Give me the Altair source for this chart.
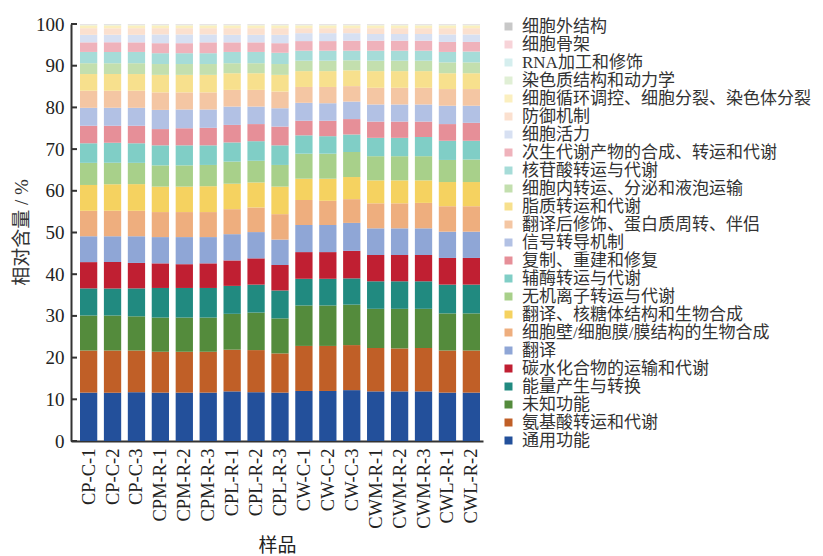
import altair as alt
import pandas as pd

samples = ["CP-C-1", "CP-C-2", "CP-C-3", "CPM-R-1", "CPM-R-2", "CPM-R-3",
           "CPL-R-1", "CPL-R-2", "CPL-R-3", "CW-C-1", "CW-C-2", "CW-C-3",
           "CWM-R-1", "CWM-R-2", "CWM-R-3", "CWL-R-1", "CWL-R-2"]

# categories from the bottom of the stack to the top
categories = ["通用功能", "氨基酸转运和代谢", "未知功能", "能量产生与转换",
              "碳水化合物的运输和代谢", "翻译", "细胞壁/细胞膜/膜结构的生物合成",
              "翻译、核糖体结构和生物合成", "无机离子转运与代谢", "辅酶转运与代谢",
              "复制、重建和修复", "信号转导机制", "翻译后修饰、蛋白质周转、伴侣",
              "脂质转运和代谢", "细胞内转运、分泌和液泡运输", "核苷酸转运与代谢",
              "次生代谢产物的合成、转运和代谢", "细胞活力", "防御机制",
              "细胞循环调控、细胞分裂、染色体分裂", "染色质结构和动力学",
              "RNA加工和修饰", "细胞骨架", "细胞外结构"]

colors = ["#23509b", "#c05f27", "#548b3c", "#218a80", "#c01f32", "#8fa6d6",
          "#eeae7e", "#f5d260", "#a8d08a", "#80cec6", "#e68f98", "#b2c1e4",
          "#f4c6a3", "#f7e08d", "#c3dfae", "#a6dcd8", "#efb2bb", "#d7e0f2",
          "#fbe0cf", "#fbefbf", "#e0efd5", "#d5eeee", "#f7d3d8", "#c8c8c8"]

v_general = [11.6, 11.6, 11.7, 11.6, 11.6, 11.6, 11.9, 11.7, 11.6, 12.0, 12.0, 12.2, 11.9, 11.9, 11.9, 11.6, 11.6]
v_amino = [10.1, 10.1, 10.0, 9.8, 9.8, 9.8, 10.0, 10.1, 9.4, 10.8, 10.8, 10.8, 10.4, 10.3, 10.4, 10.1, 10.1]
v_unknown = [8.4, 8.4, 8.2, 8.2, 8.2, 8.2, 8.6, 9.0, 8.4, 9.7, 9.7, 9.7, 9.4, 9.5, 9.4, 8.9, 8.9]
v_energy = [6.5, 6.5, 6.7, 7.1, 7.1, 7.1, 6.7, 6.7, 6.7, 6.4, 6.4, 6.3, 6.6, 6.6, 6.6, 6.9, 6.9]
v_carb = [6.3, 6.3, 6.1, 5.9, 5.7, 5.9, 6.1, 6.3, 6.1, 6.4, 6.4, 6.6, 6.3, 6.3, 6.3, 6.4, 6.4]
v_transl = [6.2, 6.2, 6.4, 6.3, 6.5, 6.3, 6.3, 6.3, 6.1, 6.5, 6.5, 6.7, 6.4, 6.4, 6.4, 6.3, 6.3]
v_wall = [6.1, 6.1, 6.1, 6.0, 6.0, 6.0, 6.0, 5.9, 6.1, 6.0, 5.8, 5.7, 6.0, 6.0, 6.1, 6.1, 6.1]
v_ribo = [6.2, 6.4, 6.4, 6.1, 6.1, 6.2, 6.1, 6.0, 6.6, 5.1, 5.3, 5.3, 5.5, 5.5, 5.4, 5.8, 5.8]
v_inorg = [5.3, 5.1, 5.1, 5.1, 5.1, 5.1, 5.3, 5.2, 5.2, 6.0, 6.0, 6.0, 5.8, 5.8, 5.8, 5.3, 5.4]
v_coenz = [4.7, 4.8, 4.7, 4.8, 4.8, 4.7, 4.6, 4.7, 4.7, 4.4, 4.2, 4.2, 4.4, 4.4, 4.6, 4.6, 4.5]
v_repl = [4.2, 4.1, 4.2, 3.9, 4.1, 4.2, 4.2, 4.1, 4.5, 3.5, 3.7, 3.7, 3.9, 3.9, 3.7, 4.0, 4.3]
v_signal = [4.3, 4.3, 4.3, 4.6, 4.5, 4.4, 4.4, 4.2, 4.4, 4.3, 4.2, 4.2, 4.1, 4.1, 4.1, 4.4, 4.1]
v_postt = [4.1, 4.1, 4.1, 4.2, 4.1, 4.1, 4.0, 4.0, 4.0, 3.8, 3.9, 3.7, 4.0, 4.0, 4.0, 4.0, 4.0]
v_lipid = [4.0, 4.0, 4.0, 4.2, 4.2, 4.2, 4.0, 4.0, 4.0, 3.8, 3.8, 3.8, 4.0, 4.0, 4.0, 3.8, 3.8]
v_intra = [2.6, 2.6, 2.6, 2.6, 2.6, 2.6, 2.4, 2.4, 2.6, 2.5, 2.5, 2.4, 2.5, 2.5, 2.5, 2.6, 2.6]
v_nucl = [2.7, 2.7, 2.7, 2.6, 2.6, 2.6, 2.7, 2.7, 2.7, 2.4, 2.4, 2.3, 2.4, 2.4, 2.4, 2.5, 2.6]
v_second = [2.3, 2.3, 2.3, 2.4, 2.4, 2.6, 2.3, 2.3, 2.3, 2.3, 2.3, 2.4, 2.4, 2.4, 2.4, 2.4, 2.3]
v_motil = [1.8, 1.8, 1.8, 2.1, 2.1, 1.9, 1.8, 1.8, 2.0, 1.9, 1.9, 1.8, 1.6, 1.6, 1.6, 1.8, 1.8]
v_defense = [1.6, 1.6, 1.6, 1.5, 1.5, 1.5, 1.6, 1.6, 1.6, 1.2, 1.2, 1.2, 1.4, 1.4, 1.4, 1.5, 1.5]
v_cycle = [0.65, 0.65, 0.65, 0.65, 0.65, 0.65, 0.65, 0.65, 0.65, 0.65, 0.65, 0.65, 0.65, 0.65, 0.65, 0.65, 0.65]
v_chrom = [0.12, 0.12, 0.12, 0.12, 0.12, 0.12, 0.12, 0.12, 0.12, 0.12, 0.12, 0.12, 0.12, 0.12, 0.12, 0.12, 0.12]
v_rna = [0.10, 0.10, 0.10, 0.10, 0.10, 0.10, 0.10, 0.10, 0.10, 0.10, 0.10, 0.10, 0.10, 0.10, 0.10, 0.10, 0.10]
v_cytosk = [0.08, 0.08, 0.08, 0.08, 0.08, 0.08, 0.08, 0.08, 0.08, 0.08, 0.08, 0.08, 0.08, 0.08, 0.08, 0.08, 0.08]
v_extra = [0.05, 0.05, 0.05, 0.05, 0.05, 0.05, 0.05, 0.05, 0.05, 0.05, 0.05, 0.05, 0.05, 0.05, 0.05, 0.05, 0.05]

series = [v_general, v_amino, v_unknown, v_energy, v_carb, v_transl, v_wall, v_ribo,
          v_inorg, v_coenz, v_repl, v_signal, v_postt, v_lipid, v_intra, v_nucl,
          v_second, v_motil, v_defense, v_cycle, v_chrom, v_rna, v_cytosk, v_extra]

y_ticks = [0, 10, 20, 30, 40, 50, 60, 70, 80, 90, 100]

rows = []
for ci, (cat, vals) in enumerate(zip(categories, series)):
    for s, v in zip(samples, vals):
        rows.append({"样品": s, "类别": cat, "值": v, "序": ci})
df = pd.DataFrame(rows)

legend_order = list(reversed(categories))
legend_colors = list(reversed(colors))

FONT = "Liberation Serif, Noto Sans CJK SC"

bars = alt.Chart(df).mark_bar().encode(
    x=alt.X("样品:N", sort=samples,
            scale=alt.Scale(paddingInner=0.277, paddingOuter=0.25, align=0.75),
            axis=alt.Axis(labelAngle=270, labelFontSize=18.5, labelPadding=7,
                          ticks=False, title="样品", titleFontSize=19,
                          titleFontWeight="normal", titleBaseline="middle",
                          titleY=104, domainWidth=2, domainColor="#333333",
                          labelColor="#222222", titleColor="#222222")),
    y=alt.Y("值:Q", stack="zero",
            scale=alt.Scale(domain=[0, 100], nice=False),
            axis=alt.Axis(values=y_ticks, ticks=False, grid=False, labelFontSize=19,
                          labelPadding=7, title="相对含量 / %", titleFontSize=19,
                          titleFontWeight="normal", titleX=-50, titleY=208,
                          titleBaseline="middle", titleAlign="center",
                          domainWidth=2, domainColor="#333333",
                          labelColor="#222222", titleColor="#333333")),
    color=alt.Color("类别:N", scale=alt.Scale(domain=legend_order, range=legend_colors),
                    legend=alt.Legend(title=None, orient="none", legendX=429, legendY=-6,
                                      symbolType="square", symbolSize=64,
                                      symbolStrokeWidth=0, labelFontSize=17,
                                      labelOffset=5, labelLimit=0, rowPadding=0,
                                      labelColor="#333333", labelFont=FONT)),
    order=alt.Order("序:Q", sort="ascending"),
)

tick_df = pd.DataFrame({"t": y_ticks})
ticks = alt.Chart(tick_df).mark_rule(color="#333333", strokeWidth=2).encode(
    y=alt.Y("t:Q"),
    x=alt.value(0),
    x2=alt.value(6),
)

chart = alt.layer(bars, ticks).properties(
    width=412, height=417, autosize="none",
    padding={"left": 71, "top": 24, "right": 340, "bottom": 115},
).configure(font=FONT).configure_view(stroke=None)

chart.save("out.html", embed_options={"renderer": "svg", "actions": False})
